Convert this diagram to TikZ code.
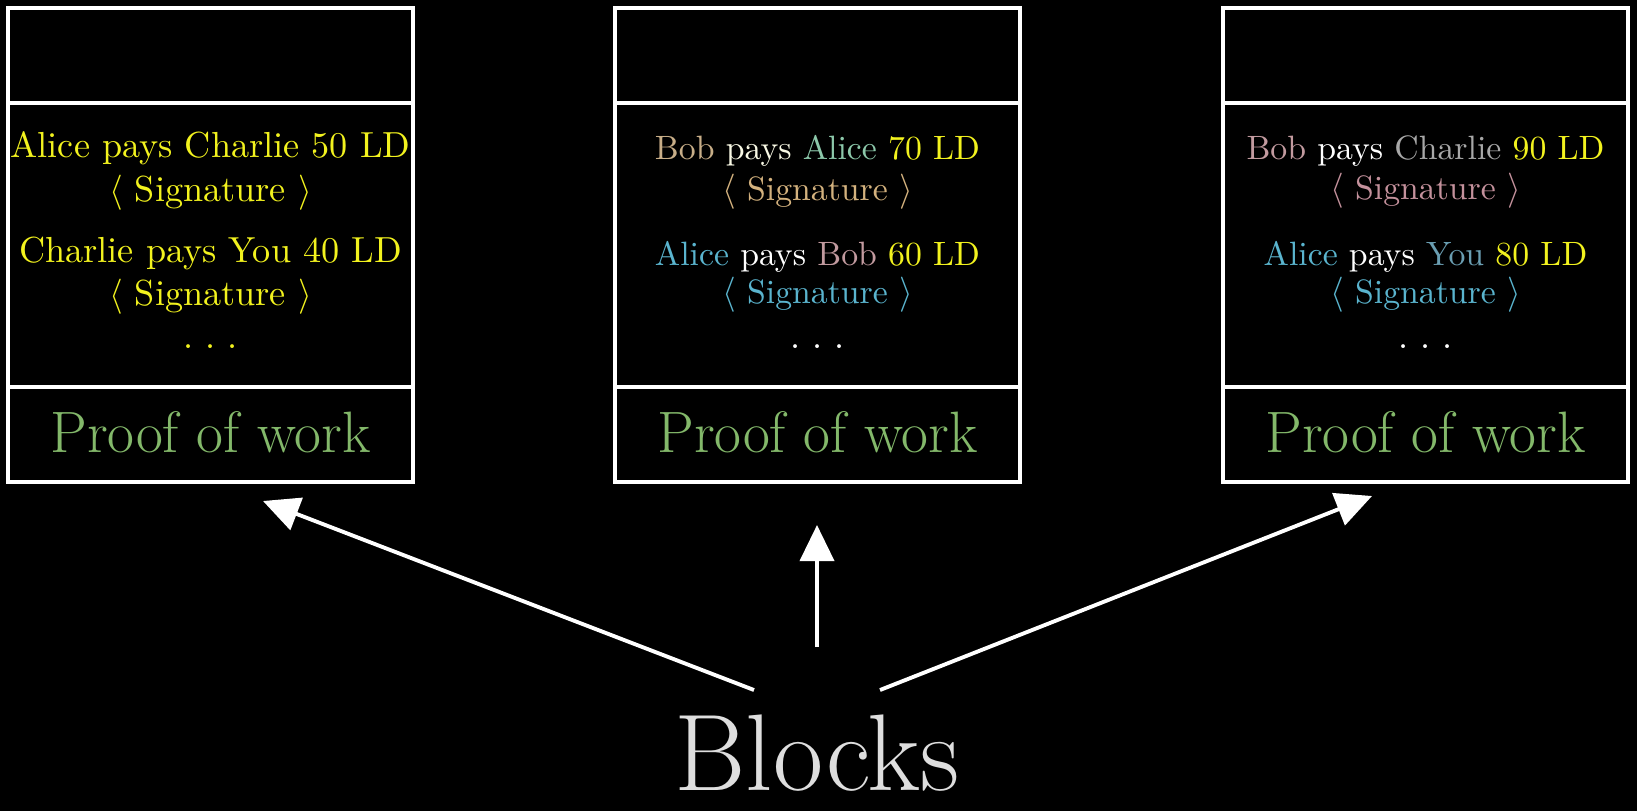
\documentclass[tikz,border=0pt]{standalone}
\usetikzlibrary{arrows.meta}

\definecolor{ylw}{HTML}{F2F21E}
\definecolor{powgreen}{HTML}{83B86A}
\definecolor{bobtan}{HTML}{C8AE88}
\definecolor{sigtan}{HTML}{D4B27E}
\definecolor{aliceteal}{HTML}{8CC8AA}
\definecolor{aliceblue}{HTML}{5AB4CE}
\definecolor{bobpink}{HTML}{C29A9F}
\definecolor{sigpink}{HTML}{C4919C}
\definecolor{charliegray}{HTML}{A8A8A8}
\definecolor{youblue}{HTML}{6A9EB2}
\definecolor{paywhite}{HTML}{F8F8E4}
\definecolor{blockgray}{HTML}{DEDEDE}

% spaced ellipsis
\newcommand{\spdots}{.\hspace{3.4pt}.\hspace{3.4pt}.}

\begin{document}
\begin{tikzpicture}[x=0.01cm,y=-0.01cm,
  frame/.style={draw=white, line width=1.15pt},
  blockbox/.style={frame, rectangle, inner sep=0, anchor=north west,
    minimum width=4.05cm, minimum height=4.74cm},
  txt/.style={anchor=base, inner sep=0, font=\fontsize{10.3}{12}\selectfont},
  txts/.style={anchor=base, inner sep=0, font=\fontsize{9.6}{11.5}\selectfont},
  pow/.style={anchor=base, inner sep=0, text=powgreen, font=\fontsize{16.6}{20}\selectfont},
  link/.style={draw=white, line width=1.1pt, -{Triangle[length=0.36cm,width=0.34cm]}}]

% background and page size
\fill[black] (0,0) rectangle (1637,811);
\useasboundingbox (0,0) rectangle (1637,811);

% three block frames with header / transactions / proof sections
\node[blockbox] (b1) at (6,6) {};
\node[blockbox] (b2) at (613,6) {};
\node[blockbox] (b3) at (1221,6) {};
\foreach \b in {b1,b2,b3}{
  \draw[frame] ([yshift=-0.97cm]\b.north west) -- ([yshift=-0.97cm]\b.north east);
  \draw[frame] ([yshift=0.975cm]\b.south west) -- ([yshift=0.975cm]\b.south east);
}

% block 1
\node[txt, text=ylw] (t11) at (210.5,157) {Alice pays Charlie 50 LD};
\node[txt, text=ylw] (s11) at (210.5,201) {$\langle$ Signature $\rangle$};
\node[txt, text=ylw] (t12) at (210.5,262) {Charlie pays You 40 LD};
\node[txt, text=ylw] (s12) at (210.5,305) {$\langle$ Signature $\rangle$};
\node[txt, text=ylw] (d1) at (210.5,348) {\spdots};
\node[pow] (p1) at (210.5,452) {Proof of work};

% block 2
\node[txts] (t21) at (817.5,159) {\textcolor{bobtan}{Bob} \textcolor{paywhite}{pays} \textcolor{aliceteal}{Alice} \textcolor{ylw}{70 LD}};
\node[txts, text=sigtan] (s21) at (817.5,200) {$\langle$ Signature $\rangle$};
\node[txts] (t22) at (817.5,265) {\textcolor{aliceblue}{Alice} \textcolor{white}{pays} \textcolor{bobpink}{Bob} \textcolor{ylw}{60 LD}};
\node[txts, text=aliceblue] (s22) at (817.5,303) {$\langle$ Signature $\rangle$};
\node[txt, text=white] (d2) at (817.5,348) {\spdots};
\node[pow] (p2) at (817.5,452) {Proof of work};

% block 3
\node[txts] (t31) at (1425.5,159) {\textcolor{bobpink}{Bob} \textcolor{white}{pays} \textcolor{charliegray}{Charlie} \textcolor{ylw}{90 LD}};
\node[txts, text=sigpink] (s31) at (1425.5,199) {$\langle$ Signature $\rangle$};
\node[txts] (t32) at (1425.5,265) {\textcolor{aliceblue}{Alice} \textcolor{white}{pays} \textcolor{youblue}{You} \textcolor{ylw}{80 LD}};
\node[txts, text=aliceblue] (s32) at (1425.5,303) {$\langle$ Signature $\rangle$};
\node[txt, text=white] (d3) at (1425.5,348) {\spdots};
\node[pow] (p3) at (1425.5,452) {Proof of work};

% caption
\node[anchor=base, inner sep=0, text=blockgray, font=\fontsize{31}{36}\selectfont] (blocks) at (817,790) {Blocks};

% arrows from the caption up to the blocks
\coordinate (l0) at (754,690);
\coordinate (l1) at (263,501);
\coordinate (m0) at (817,647);
\coordinate (m1) at (817,525);
\coordinate (r0) at (880,690);
\coordinate (r1) at (1372,496);
\draw[link] (l0) -- (l1);
\draw[link] (m0) -- (m1);
\draw[link] (r0) -- (r1);
\end{tikzpicture}
\end{document}
